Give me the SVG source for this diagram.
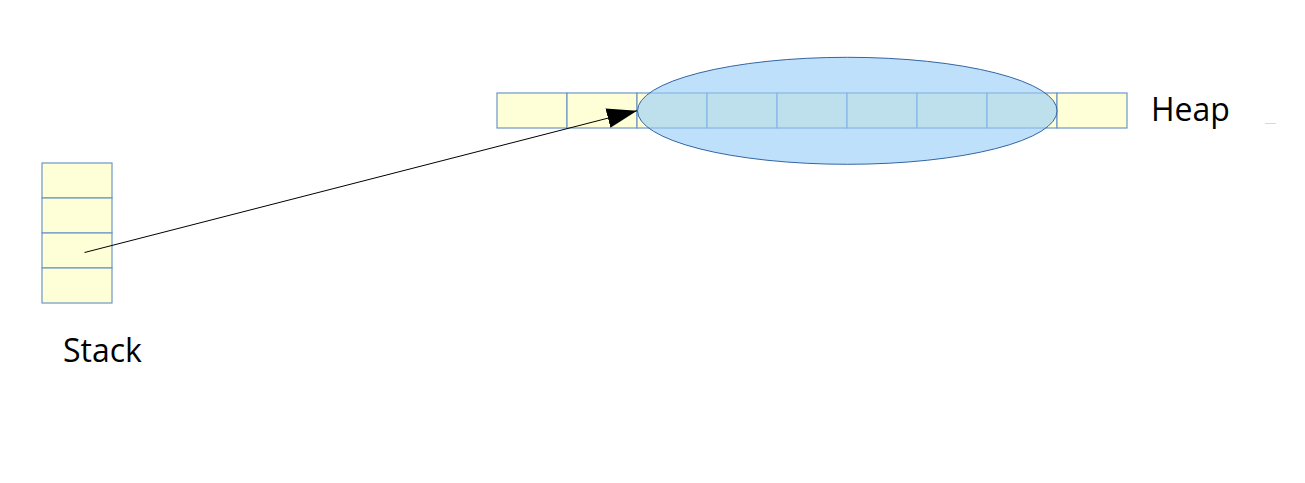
<svg xmlns="http://www.w3.org/2000/svg" width="1305" height="483" viewBox="0 0 1305 483">
<style>
.cell{fill:#ffffd7;stroke:#6b97c9;stroke-width:1.2}
.lbl{font-family:"Open Sans","Noto Sans",sans-serif;font-size:32px;fill:#000}
</style>
<defs>
<marker id="ah" markerUnits="userSpaceOnUse" markerWidth="32" markerHeight="22" refX="30" refY="10" orient="auto">
<path d="M0,0 L30,10 L0,20 Z" fill="#000"/>
</marker>
</defs>
<rect width="1305" height="483" fill="#fff"/>
<g id="heap">
<rect class="cell" x="497" y="93" width="70" height="35"/>
<rect class="cell" x="567" y="93" width="70" height="35"/>
<rect class="cell" x="637" y="93" width="70" height="35"/>
<rect class="cell" x="707" y="93" width="70" height="35"/>
<rect class="cell" x="777" y="93" width="70" height="35"/>
<rect class="cell" x="847" y="93" width="70" height="35"/>
<rect class="cell" x="917" y="93" width="70" height="35"/>
<rect class="cell" x="987" y="93" width="70" height="35"/>
<rect class="cell" x="1057" y="93" width="70" height="35"/>
</g>
<g id="selection">
<ellipse cx="847.3" cy="110.8" rx="209.8" ry="53.5" fill="rgb(150,205,248)" fill-opacity="0.62" stroke="#3465a4" stroke-width="1"/>
</g>
<g id="stack">
<rect class="cell" x="42" y="163" width="70" height="35"/>
<rect class="cell" x="42" y="198" width="70" height="35"/>
<rect class="cell" x="42" y="233" width="70" height="35"/>
<rect class="cell" x="42" y="268" width="70" height="35"/>
</g>
<g id="connectors">
<line x1="84.5" y1="252.5" x2="637" y2="110.7" stroke="#000" stroke-width="1" marker-end="url(#ah)"/>
</g>
<g id="labels">
<text class="lbl" x="1151" y="121">Heap</text>
<text class="lbl" x="63" y="361.5">Stack</text>
</g>
<line x1="1265" y1="123.5" x2="1276" y2="123.5" stroke="#d8d8d8" stroke-width="1"/>
</svg>
